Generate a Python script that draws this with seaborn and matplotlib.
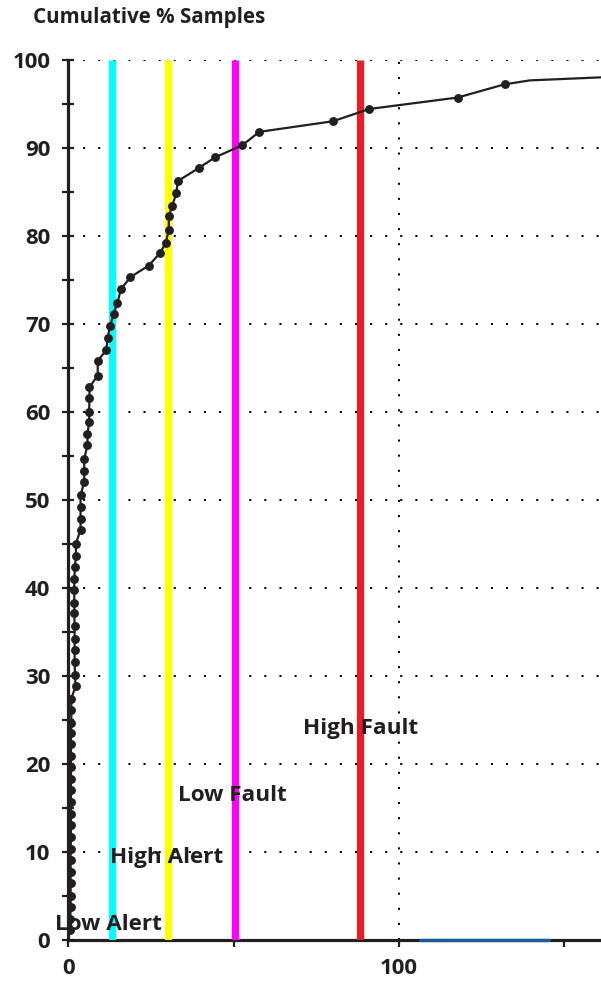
import matplotlib
matplotlib.use("Agg")
import matplotlib.pyplot as plt
import seaborn as sns
import pandas as pd

# ---- data ----
sample_x = [0.6, 0.6, 0.7, 0.7, 0.7, 0.7, 0.7, 0.7, 0.8, 0.8, 0.8, 0.8, 0.8, 0.8,
            0.8, 0.8, 0.8, 0.8, 0.9, 0.9, 0.9, 2.2, 2.0, 1.9, 1.9, 1.9, 1.9, 1.8,
            1.8, 1.8, 1.8, 2.0, 2.3, 2.3, 3.7, 3.7, 3.7, 3.7, 4.8, 4.8, 4.8, 5.8,
            5.8, 6.3, 6.3, 6.4, 6.4, 8.9, 8.9, 11.5, 11.9, 12.6, 13.7, 14.8, 15.9,
            18.8, 24.3, 27.7, 29.5, 30.4, 30.4, 31.4, 32.7, 33.1, 39.5, 44.4, 52.7,
            57.8, 80.0, 91.1, 117.8, 132.0]
cum_pct = [1.1, 2.4, 3.7, 5.0, 6.4, 7.7, 9.0, 10.3, 11.7, 13.0, 14.3, 15.6, 17.0,
           18.3, 19.6, 20.9, 22.2, 23.5, 24.6, 26.1, 27.4, 28.8, 30.1, 31.6, 32.9,
           34.2, 35.6, 37.1, 38.3, 39.7, 41.0, 42.4, 43.6, 45.0, 46.6, 47.8, 49.2,
           50.5, 52.0, 53.3, 54.6, 56.2, 57.5, 58.8, 60.0, 61.6, 62.8, 64.1, 65.8,
           67.0, 68.4, 69.7, 71.1, 72.3, 73.9, 75.3, 76.6, 78.0, 79.2, 80.7, 82.2,
           83.4, 84.8, 86.2, 87.7, 88.9, 90.3, 91.8, 93.0, 94.4, 95.7, 97.2]
# line continues past the last visible marker
tail_x = [132.0, 139.7, 161.5]
tail_y = [97.2, 97.65, 98.0]

threshold_names = ["Low Alert", "High Alert", "Low Fault", "High Fault"]
threshold_x = [13.2, 30.3, 50.5, 88.4]
threshold_colors = ["#00FFFF", "#FFFF00", "#FF00FF", "#ED1C24"]
label_x = [-4.0, 12.6, 33.2, 71.0]
label_y = [1.7, 9.3, 16.4, 24.0]

blue_x = [106.3, 145.5]
blue_y = [0, 0]

x_major = [0, 100]
x_minor = [50, 150]
y_major = list(range(0, 101, 10))
y_minor = list(range(5, 100, 10))

title = "Cumulative % Samples"

# ---- style ----
sns.set_style("ticks")
plt.rcParams["font.family"] = ["Open Sans", "DejaVu Sans"]
plt.rcParams["font.weight"] = "bold"
TXT = "#231F20"

fig = plt.figure(figsize=(6.01, 9.82), dpi=100)
ax = fig.add_axes([0.1137, 0.0431, 0.8863, 0.8961])

df = pd.DataFrame({"x": sample_x, "y": cum_pct})
tail = pd.DataFrame({"x": tail_x, "y": tail_y})

for xv, c in zip(threshold_x, threshold_colors):
    ax.axvline(xv, ymin=0, ymax=1, color=c, lw=5.2, zorder=3, solid_capstyle="butt")

sns.lineplot(data=tail, x="x", y="y", sort=False, estimator=None, color=TXT,
             lw=1.6, ax=ax, zorder=5)
sns.lineplot(data=df, x="x", y="y", sort=False, estimator=None, color=TXT,
             lw=1.6, marker="o", markersize=6.4, markeredgewidth=0,
             markerfacecolor=TXT, ax=ax, zorder=6)

sns.lineplot(x=blue_x, y=blue_y, color="#1B5A9C", lw=2.4, ax=ax, zorder=7,
             clip_on=False)

for name, lx, ly in zip(threshold_names, label_x, label_y):
    ax.text(lx, ly, name, fontsize=16.2, fontweight="bold", color=TXT,
            ha="left", va="center", zorder=8)

ax.set_xlim(0, 161.2)
ax.set_ylim(0, 100)
ax.set_xticks(x_major)
ax.set_xticks(x_minor, minor=True)
ax.set_yticks(y_major)
ax.set_yticks(y_minor, minor=True)
ax.set_xticklabels([str(v) for v in x_major])
ax.set_yticklabels([str(v) for v in y_major])
ax.set_xlabel("")
ax.set_ylabel("")

ax.grid(axis="y", which="major", linestyle=(0, (1, 6.5)), color="black", lw=1.45)
ax.grid(axis="x", which="major", linestyle=(0, (1, 6.5)), color="black", lw=1.45)
ax.set_axisbelow(True)

for s in ["top", "right"]:
    ax.spines[s].set_visible(False)
for s in ["left", "bottom"]:
    ax.spines[s].set_linewidth(2.3)
    ax.spines[s].set_color(TXT)

ax.tick_params(axis="y", which="both", direction="inout", length=8, width=1.6,
               color=TXT, labelsize=16, labelcolor=TXT, pad=9)
ax.tick_params(axis="x", which="both", direction="out", length=5, width=1.6,
               color=TXT, labelsize=16, labelcolor=TXT, pad=8)
for lab in ax.get_xticklabels() + ax.get_yticklabels():
    lab.set_fontweight("bold")

fig.text(0.055, 0.9817, title, fontsize=14.8, fontweight="bold", color=TXT,
         ha="left", va="center")

fig.savefig("out.png", dpi=100)
